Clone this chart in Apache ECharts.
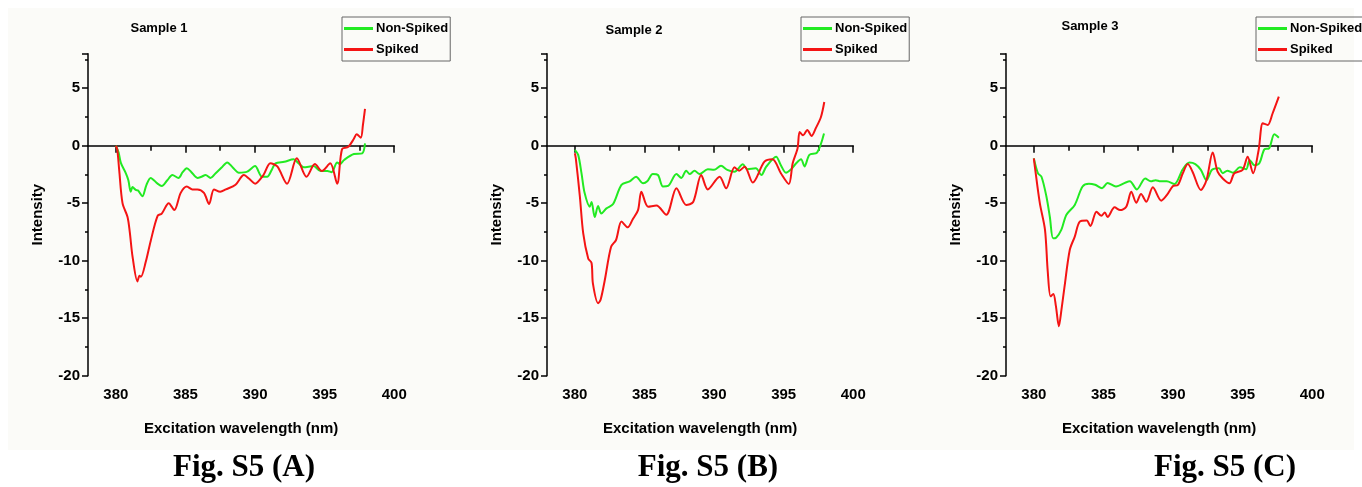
<!DOCTYPE html>
<html>
<head>
<meta charset="utf-8">
<script src="https://cdn.jsdelivr.net/npm/echarts@6/dist/echarts.min.js"></script>
<style>
  html, body { margin: 0; padding: 0; background: #fff; }
  #chart { width: 1362px; height: 487px; }
</style>
</head>
<body>
<div id="chart"></div>
<script>
// values: [wavelength nm, intensity]
const sample1NonSpiked = [[380.0,0],[380.2,-0.6],[380.36,-1.5],[380.72,-2.4],[380.9,-3.0],[381.07,-4.0],[381.2,-3.6],[381.43,-3.85],[381.6,-3.9],[381.9,-4.4],[382.2,-3.4],[382.5,-2.8],[383.0,-3.3],[383.3,-3.5],[383.7,-3.0],[384.06,-2.55],[384.5,-2.8],[384.8,-2.3],[385.1,-1.97],[385.4,-2.26],[385.86,-2.8],[386.15,-2.7],[386.45,-2.55],[386.8,-2.8],[387.17,-2.4],[387.6,-1.9],[388.0,-1.45],[388.4,-1.9],[388.84,-2.35],[389.44,-2.26],[390.0,-1.77],[390.5,-2.7],[390.87,-2.7],[391.2,-2.1],[391.47,-1.53],[392.1,-1.4],[392.78,-1.18],[393.1,-1.5],[393.5,-1.88],[394.2,-1.77],[394.7,-2.2],[395.2,-2.2],[395.5,-2.3],[395.9,-1.45],[396.1,-1.6],[396.4,-1.24],[397.1,-0.72],[397.7,-0.66],[397.9,0.2]];
const sample1Spiked = [[380.0,0],[380.1,-0.3],[380.24,-2.1],[380.48,-5.0],[380.84,-6.2],[381.0,-7.5],[381.2,-9.65],[381.55,-11.8],[381.7,-11.3],[381.8,-11.4],[382.15,-10.1],[382.5,-8.3],[383.0,-6.1],[383.3,-5.9],[383.8,-5.0],[384.2,-5.6],[384.66,-4.1],[385.1,-3.55],[385.5,-3.8],[385.86,-3.8],[386.33,-4.1],[386.7,-5.07],[387.05,-3.8],[387.5,-4.0],[387.9,-3.8],[388.6,-3.4],[389.2,-2.55],[389.6,-2.9],[390.0,-3.3],[390.6,-2.55],[391.1,-1.53],[391.6,-1.8],[392.3,-3.3],[393.0,-1.1],[393.7,-2.7],[394.3,-1.6],[394.8,-2.2],[395.4,-1.53],[395.9,-3.3],[396.25,-0.3],[396.7,-0.1],[397.1,0.6],[397.3,1.0],[397.6,0.7],[397.75,1.8],[397.9,3.2]];
const sample2NonSpiked = [[380.0,-0.37],[380.24,-0.8],[380.48,-2.4],[380.7,-4.1],[381.07,-5.3],[381.2,-4.9],[381.43,-6.2],[381.67,-5.25],[381.9,-5.9],[382.27,-5.45],[382.75,-5.07],[383.35,-3.4],[383.94,-3.1],[384.4,-2.7],[384.9,-3.27],[385.2,-3.1],[385.6,-2.47],[385.97,-2.55],[386.33,-3.55],[386.7,-3.5],[387.3,-2.47],[387.65,-2.8],[388.0,-2.17],[388.25,-2.47],[388.6,-2.17],[388.96,-2.47],[389.55,-2.05],[390.0,-2.1],[390.5,-1.74],[390.95,-2.1],[391.47,-2.26],[392.07,-1.62],[392.4,-2.05],[393.0,-1.97],[393.4,-2.55],[393.75,-1.82],[394.46,-0.95],[394.8,-1.7],[395.17,-2.35],[395.5,-2.1],[395.9,-1.53],[396.25,-1.18],[396.5,-1.8],[396.85,-0.8],[397.4,-0.6],[397.9,1.07]];
const sample2Spiked = [[380.0,-0.66],[380.07,-1.1],[380.36,-4.4],[380.6,-7.6],[380.96,-9.8],[381.2,-10.2],[381.3,-12.0],[381.67,-13.7],[381.85,-13.4],[382.15,-11.7],[382.6,-8.8],[382.96,-8.2],[383.35,-6.6],[383.8,-7.1],[384.16,-6.4],[384.54,-5.6],[384.78,-4.0],[385.26,-5.3],[385.86,-5.2],[386.57,-6.0],[387.3,-3.7],[388.0,-5.15],[388.5,-4.9],[389.08,-2.55],[389.55,-3.8],[390.4,-2.7],[390.87,-3.7],[391.47,-1.88],[391.8,-2.17],[392.2,-1.82],[392.78,-3.2],[393.62,-1.39],[394.2,-1.18],[394.8,-2.4],[395.37,-3.33],[395.65,-1.53],[396.0,-0.23],[396.15,1.2],[396.4,0.9],[396.7,1.37],[397.0,0.85],[397.3,1.5],[397.68,2.5],[397.92,3.8]];
const sample3NonSpiked = [[380.0,-1.1],[380.3,-2.4],[380.55,-2.7],[380.9,-4.4],[381.15,-6.2],[381.38,-8.05],[381.6,-8.0],[381.98,-7.3],[382.34,-6.0],[382.94,-5.15],[383.5,-3.55],[383.96,-3.3],[384.4,-3.4],[384.9,-3.7],[385.3,-3.25],[385.9,-3.55],[386.6,-3.2],[386.9,-3.1],[387.4,-3.8],[388.0,-2.85],[388.4,-3.1],[388.75,-3.0],[389.1,-3.1],[389.55,-3.1],[390.1,-3.33],[390.7,-2.05],[391.18,-1.47],[391.6,-1.6],[392.0,-2.1],[392.4,-3.0],[392.8,-2.1],[393.3,-1.97],[393.57,-2.4],[393.9,-2.17],[394.3,-2.35],[394.8,-1.88],[395.25,-2.05],[395.5,-1.24],[395.85,-1.7],[396.2,-1.53],[396.56,-0.32],[396.9,-0.23],[397.28,1.0],[397.6,0.7]];
const sample3Spiked = [[380.0,-1.1],[380.07,-1.8],[380.43,-5.0],[380.8,-7.3],[381.0,-10.95],[381.2,-13.1],[381.4,-12.9],[381.58,-13.9],[381.8,-15.7],[381.98,-14.3],[382.2,-12.3],[382.58,-9.07],[382.94,-7.9],[383.3,-6.6],[383.8,-6.5],[384.06,-6.98],[384.5,-5.74],[384.85,-6.1],[385.1,-5.8],[385.3,-6.2],[385.8,-5.36],[386.2,-5.6],[386.64,-5.3],[387.0,-4.0],[387.36,-4.95],[387.7,-4.2],[388.08,-4.87],[388.55,-3.62],[389.15,-4.78],[389.55,-4.3],[390.0,-3.5],[390.35,-3.4],[390.7,-2.4],[391.06,-1.6],[391.4,-2.26],[392.0,-3.85],[392.4,-3.0],[392.85,-0.6],[393.2,-2.26],[393.57,-2.85],[394.05,-3.27],[394.4,-2.4],[395.0,-2.1],[395.36,-0.95],[395.75,-2.4],[396.15,-0.37],[396.45,1.95],[396.8,1.8],[397.15,2.8],[397.6,4.26]];

const seriesNames = ['Non-Spiked', 'Spiked'];
const panelTitles = ['Sample 1', 'Sample 2', 'Sample 3'];
const figLabels = ['Fig. S5 (A)', 'Fig. S5 (B)', 'Fig. S5 (C)'];

const panels = [
    { off: 0, titleX: 159, titleY: 28, figX: 244, legendX: 342, green: sample1NonSpiked, red: sample1Spiked },
    { off: 459, titleX: 634, titleY: 30, figX: 708, legendX: 801, green: sample2NonSpiked, red: sample2Spiked },
    { off: 918, titleX: 1090, titleY: 26, figX: 1225, legendX: 1256, green: sample3NonSpiked, red: sample3Spiked }
];

const SANS = "'Liberation Sans', Arial, sans-serif";
const GREEN = '#22ea22';
const RED = '#f41414';

const chart = echarts.init(document.getElementById('chart'), null, { renderer: 'canvas' });

const grid = [], xAxis = [], yAxis = [], series = [], legend = [];
const graphic = [
    { type: 'rect', z: -10, shape: { x: 8, y: 8, width: 1346, height: 442 }, style: { fill: '#fbfbf8' } }
];

const gridTop = 53.7, gridHeight = 322, pxPerNm = 13.92;

panels.forEach((p, i) => {
    const left = 88 + p.off;
    // data grid: 378..400
    grid.push({ left: left, top: gridTop, width: 22 * pxPerNm, height: gridHeight });
    // tick grid: 380..400
    grid.push({ left: left + 2 * pxPerNm, top: gridTop, width: 20 * pxPerNm, height: gridHeight });

    xAxis.push({
        gridIndex: 2 * i, type: 'value', min: 378, max: 400,
        axisLine: { lineStyle: { color: '#000', width: 1.5 } },
        axisTick: { show: false }, axisLabel: { show: false }, splitLine: { show: false },
        name: 'Excitation wavelength (nm)', nameLocation: 'middle', nameGap: 46,
        nameTextStyle: { fontFamily: SANS, fontWeight: 'bold', fontSize: 15, color: '#000' }
    });
    xAxis.push({
        gridIndex: 2 * i + 1, type: 'value', min: 380, max: 400, interval: 5,
        axisLine: { show: false },
        axisTick: { length: 7, lineStyle: { color: '#000', width: 1.5 } },
        minorTick: { show: true, splitNumber: 2, length: 5, lineStyle: { color: '#000', width: 1.5 } },
        axisLabel: { margin: 12, fontFamily: SANS, fontWeight: 'bold', fontSize: 15, color: '#000' },
        splitLine: { show: false }
    });
    yAxis.push({
        gridIndex: 2 * i, type: 'value', min: -20, max: 8, interval: 5,
        axisLine: { show: true, lineStyle: { color: '#000', width: 1.5 } },
        axisTick: { show: true, length: 6, lineStyle: { color: '#000', width: 1.5 } },
        minorTick: { show: true, splitNumber: 2, length: 3, lineStyle: { color: '#000', width: 1.5 } },
        axisLabel: { margin: 8, showMaxLabel: false, fontFamily: SANS, fontWeight: 'bold', fontSize: 15, color: '#000' },
        splitLine: { show: false },
        name: 'Intensity', nameLocation: 'middle', nameGap: 43,
        nameTextStyle: { fontFamily: SANS, fontWeight: 'bold', fontSize: 15, color: '#000' }
    });
    yAxis.push({ gridIndex: 2 * i + 1, type: 'value', min: -20, max: 8, show: false });

    [p.green, p.red].forEach((d, k) => {
        series.push({
            name: seriesNames[k], type: 'line', xAxisIndex: 2 * i, yAxisIndex: 2 * i,
            data: d, showSymbol: false, smooth: 0.3,
            lineStyle: { color: k === 0 ? GREEN : RED, width: 2 },
            itemStyle: { color: k === 0 ? GREEN : RED },
            z: k === 0 ? 2 : 3
        });
    });

    legend.push({
        data: seriesNames, orient: 'vertical', left: p.legendX, top: 17,
        icon: 'rect', itemWidth: 29, itemHeight: 3, itemGap: 8,
        padding: [5, 2, 5, 2], borderColor: '#666', borderWidth: 1,
        textStyle: { fontFamily: SANS, fontWeight: 'bold', fontSize: 13, color: '#000', padding: [0, 0, 0, -2] }
    });

    graphic.push({
        type: 'text', x: p.titleX, y: p.titleY,
        style: { text: panelTitles[i], fontFamily: SANS, fontWeight: 'bold', fontSize: 13, fill: '#000', align: 'center', verticalAlign: 'middle' }
    });
    graphic.push({
        type: 'text', x: p.figX, y: 468,
        style: { text: figLabels[i], fontFamily: "'Liberation Serif', 'Times New Roman', serif", fontWeight: 'bold', fontSize: 31, fill: '#000', align: 'center', verticalAlign: 'middle' }
    });
});

chart.setOption({
    animation: false,
    backgroundColor: '#fff',
    grid, xAxis, yAxis, series, legend, graphic
});
</script>
</body>
</html>
